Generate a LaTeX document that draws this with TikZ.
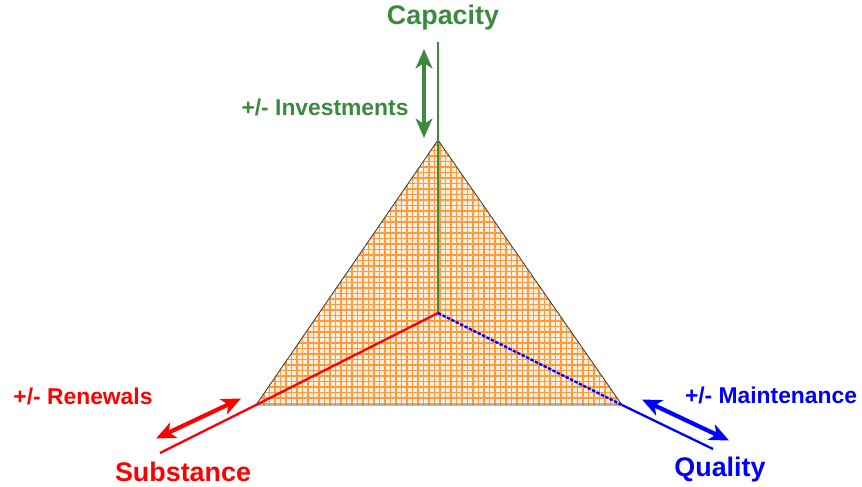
\documentclass[tikz,border=0pt]{standalone}
\usepackage{fontspec}
\setmainfont{Liberation Sans}
\usetikzlibrary{arrows.meta}
\definecolor{capgreen}{HTML}{3C8A3F}
\definecolor{subred}{HTML}{FF0000}
\definecolor{qualblue}{HTML}{0000FF}
\definecolor{hatch}{HTML}{FF9A3C}

\begin{document}
\begin{tikzpicture}[font=\bfseries,>={Stealth[length=11pt,width=9.5pt,inset=3pt]},
  axis/.style={line width=1.3pt},
  lever/.style={<->,line width=2.4pt},
  title/.style={font=\bfseries\fontsize{15.3}{18}\selectfont},
  lbl/.style={font=\bfseries\fontsize{13}{15}\selectfont}]
  \useasboundingbox (0,0) rectangle (17.24,9.72);
  % corners of the triangle and its centre
  \coordinate (top) at (8.76,6.92);
  \coordinate (left) at (5.12,1.62);
  \coordinate (right) at (12.44,1.62);
  \coordinate (mid) at (8.76,3.46);
  % ends of the three axes
  \coordinate (capend) at (8.76,8.88);
  \coordinate (subend) at (3.20,0.66);
  \coordinate (qualend) at (14.26,0.74);
  % hatched triangle
  \begin{scope}
    \clip (top)--(left)--(right)--cycle;
    \fill[hatch!15] (5,1.5) rectangle (12.6,7);
    \draw[hatch,line width=0.7pt,step=0.11] (5,1.5) grid (12.6,7);
  \end{scope}
  \draw[black!75,line width=0.5pt] (top)--(left)--(right)--cycle;
  % axes
  \draw[axis,capgreen] (mid)--(top)--(capend);
  \draw[axis,subred] (mid)--(left)--(subend);
  \draw[axis,qualblue,dash pattern=on 2pt off 0.8pt] (mid)--(right);
  \draw[axis,qualblue] (right)--(qualend);
  % levers
  \coordinate (invA) at (8.48,8.74);
  \coordinate (invB) at (8.48,6.96);
  \coordinate (renA) at (3.12,0.95);
  \coordinate (renB) at (4.82,1.75);
  \coordinate (mntA) at (12.84,1.73);
  \coordinate (mntB) at (14.58,0.91);
  \draw[lever,capgreen] (invA)--(invB);
  \draw[lever,subred] (renA)--(renB);
  \draw[lever,qualblue] (mntA)--(mntB);
  % labels
  \node[title,text=capgreen] (cap) at (8.86,9.36) {Capacity};
  \node[lbl,text=capgreen] (inv) at (6.50,7.58) {+/- Investments};
  \node[title,text=subred] (sub) at (3.66,0.29) {Substance};
  \node[lbl,text=subred] (ren) at (1.66,1.80) {+/- Renewals};
  \node[title,text=qualblue] (qual) at (14.40,0.33) {Quality};
  \node[lbl,text=qualblue] (mnt) at (15.42,1.82) {+/- Maintenance};
\end{tikzpicture}
\end{document}
